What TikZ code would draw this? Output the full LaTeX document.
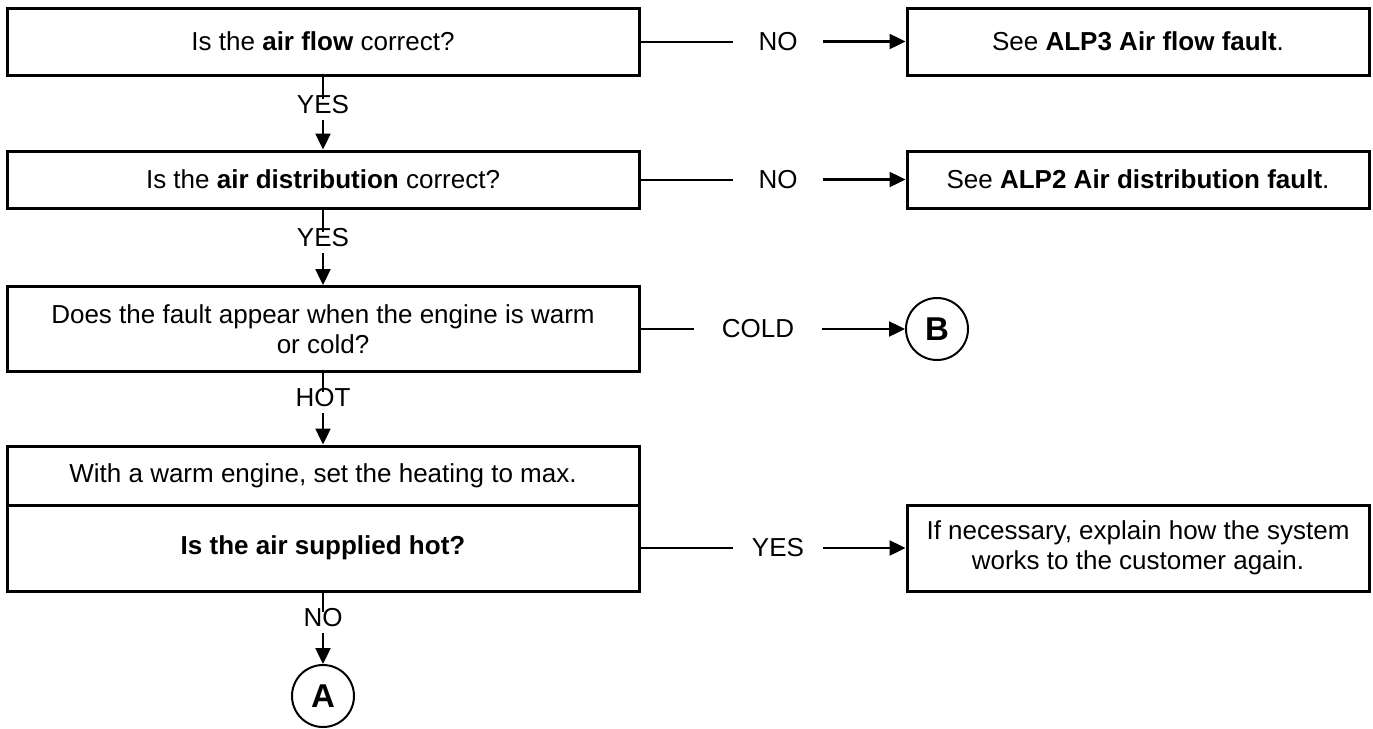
\documentclass[tikz,border=0pt]{standalone}
\usepackage{fontspec}
\setmainfont{Liberation Sans}
\usetikzlibrary{arrows.meta}

\begin{document}
\begin{tikzpicture}[x=1pt,y=-1pt,
  box/.style={draw,line width=3pt,align=center,inner sep=0pt,font=\fontsize{26}{30}\selectfont},
  lbl/.style={inner sep=0pt,font=\fontsize{26}{30}\selectfont},
  endpt/.style={draw,circle,line width=2pt,minimum size=62pt,inner sep=0pt,font=\fontsize{33}{36}\selectfont\bfseries},
  link/.style={line width=2pt},
  go/.style={line width=2.4pt,-{Triangle[length=16pt,width=15pt]}}]
  \useasboundingbox (0,0) rectangle (1373,728);
  % left column
  \node[box,minimum width=632pt,minimum height=67pt] (q1) at (323,41.5) {Is the \textbf{air flow} correct?};
  \node[box,minimum width=632pt,minimum height=57pt] (q2) at (323,179.5) {Is the \textbf{air distribution} correct?};
  \node[box,minimum width=632pt,minimum height=85pt] (q3) at (323,329) {Does the fault appear when the engine is warm\\or cold?};
  \node[box,minimum width=632pt,minimum height=59pt] (warm) at (323,475.5) {With a warm engine, set the heating to max.};
  \node[box,minimum width=632pt,minimum height=86pt] (hot) at (323,548) {\textbf{Is the air supplied hot?}};
  \node[endpt] (A) at (323,696) {A};
  % right column
  \node[box,minimum width=462pt,minimum height=67pt] (r1) at (1138,41.5) {See \textbf{ALP3 Air flow fault}.};
  \node[box,minimum width=462pt,minimum height=57pt] (r2) at (1138,179.5) {See \textbf{ALP2 Air distribution fault}.};
  \node[endpt] (B) at (937,329) {B};
  \node[box,minimum width=462pt,minimum height=86pt] (r4) at (1138,548) {If necessary, explain how the system\\works to the customer again.};
  % labels
  \node[lbl,minimum width=90pt] (no1) at (778,41.5) {NO};
  \node[lbl,minimum width=90pt] (no2) at (778,179.5) {NO};
  \node[lbl,minimum width=128pt] (cold) at (758,329) {COLD};
  \node[lbl,minimum width=90pt] (yes4) at (778,548) {YES};
  \node[lbl] (yes1) at (323,105) {YES};
  \node[lbl] (yes2) at (323,238) {YES};
  \node[lbl] (hotl) at (323,398) {HOT};
  \node[lbl] (no4) at (323,618) {NO};
  % horizontal links
  \draw[link] (q1.east) -- (no1.west);
  \draw[go] (no1.east) -- (r1.west);
  \draw[link] (q2.east) -- (no2.west);
  \draw[go] (no2.east) -- (r2.west);
  \draw[link] (q3.east) -- (cold.west);
  \draw[go] (cold.east) -- (B.west);
  \draw[link] (hot.east) -- (yes4.west);
  \draw[go] (yes4.east) -- (r4.west);
  % vertical links
  \draw[link,shorten >=-3pt] (q1.south) -- (yes1.north);
  \draw[go,shorten <=6pt] (yes1.south) -- (q2.north);
  \draw[link,shorten >=-3pt] (q2.south) -- (yes2.north);
  \draw[go,shorten <=6pt] (yes2.south) -- (q3.north);
  \draw[link,shorten >=-3pt] (q3.south) -- (hotl.north);
  \draw[go,shorten <=6pt] (hotl.south) -- (warm.north);
  \draw[link,shorten >=-3pt] (hot.south) -- (no4.north);
  \draw[go,shorten <=6pt] (no4.south) -- (A.north);
\end{tikzpicture}
\end{document}
